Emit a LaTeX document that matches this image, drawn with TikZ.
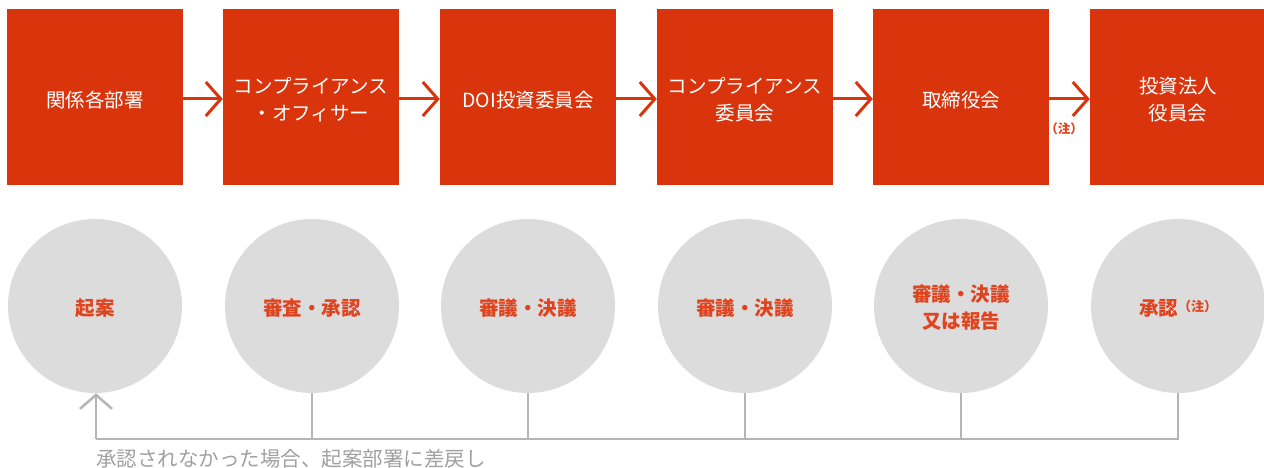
\documentclass[tikz,border=0pt]{standalone}
\usepackage{fontspec}
\setmainfont{Noto Sans CJK JP}
\usetikzlibrary{arrows.meta}
\definecolor{boxred}{HTML}{D9340C}
\definecolor{txtred}{HTML}{E0441E}
\definecolor{circgray}{HTML}{DCDCDC}
\definecolor{linegray}{HTML}{B5B5B5}
\definecolor{notegray}{HTML}{A0A0A0}
\tikzset{
  stepbox/.style={fill=boxred, draw=none, minimum width=176pt, minimum height=176pt, inner sep=0pt, text=white, align=center, font=\fontsize{19.5}{27}\selectfont},
  boxtext/.style={text=white, align=center, font=\fontsize{19.5}{27}\selectfont},
  stepcirc/.style={circle, fill=circgray, draw=none, minimum size=174pt, inner sep=0pt, text=txtred, align=center, font=\fontsize{19.5}{27}\selectfont\bfseries},
  circtext/.style={text=txtred, align=center, font=\fontsize{19.5}{27}\selectfont\bfseries},
  flow/.style={draw=boxred, line width=3pt, -{Straight Barb[length=15pt, width=34pt, line width=3pt]}},
  back/.style={draw=linegray, line width=2.5pt},
}
\begin{document}
\begin{tikzpicture}[x=1pt, y=-1pt]
\useasboundingbox (0,0) rectangle (1264,468);
\node[stepbox] (b1) at (95,97) {};
\node[stepbox] (b2) at (311,97) {};
\node[stepbox] (b3) at (528,97) {};
\node[stepbox] (b4) at (745,97) {};
\node[stepbox] (b5) at (961,97) {};
\node[stepbox] (b6) at (1178,97) {};
\node[boxtext] (t1) at (95,100) {関係各部署};
\node[boxtext] (t2) at (311,100) {コンプライアンス\\・オフィサー};
\node[boxtext] (t3) at (528,100) {DOI投資委員会};
\node[boxtext] (t4) at (745,100) {コンプライアンス\\委員会};
\node[boxtext] (t5) at (961,100) {取締役会};
\node[boxtext] (t6) at (1178,100) {投資法人\\役員会};
\foreach \a/\b in {b1/b2,b2/b3,b3/b4,b4/b5,b5/b6}
  \draw[flow] (\a.east |- 0,99) -- (\b.west |- 0,99);
\node[text=txtred, font=\fontsize{12.5}{12.5}\selectfont\bfseries] (note) at (1064,129) {（注）};
\node[stepcirc] (c1) at (95,306) {};
\node[stepcirc] (c2) at (312,306) {};
\node[stepcirc] (c3) at (528,306) {};
\node[stepcirc] (c4) at (745,306) {};
\node[stepcirc] (c5) at (961,306) {};
\node[stepcirc] (c6) at (1178,306) {};
\node[circtext] (d1) at (95,308) {起案};
\node[circtext] (d2) at (312,308) {審査・承認};
\node[circtext] (d3) at (528,308) {審議・決議};
\node[circtext] (d4) at (745,308) {審議・決議};
\node[circtext] (d5) at (961,308) {審議・決議\\又は報告};
\node[circtext] (d6) at (1178,308) {承認\raisebox{4pt}{\fontsize{13}{13}\selectfont （注）}};
\coordinate (r0) at (96,439);
\coordinate (r6) at (1178,439);
\draw[back] (c2.south) -- (c2.south |- r0);
\draw[back] (c3.south) -- (c3.south |- r0);
\draw[back] (c4.south) -- (c4.south |- r0);
\draw[back] (c5.south) -- (c5.south |- r0);
\draw[back] (c6.south) -- (r6) -- (r0);
\draw[back, -{Straight Barb[length=14pt, width=32pt, line width=2.5pt]}] (r0) -- (r0 |- c1.south);
\node[anchor=west, text=notegray, font=\fontsize{20.5}{20.5}\selectfont, inner sep=0pt] (lbl) at (96,459) {承認されなかった場合、起案部署に差戻し};
\end{tikzpicture}
\end{document}
